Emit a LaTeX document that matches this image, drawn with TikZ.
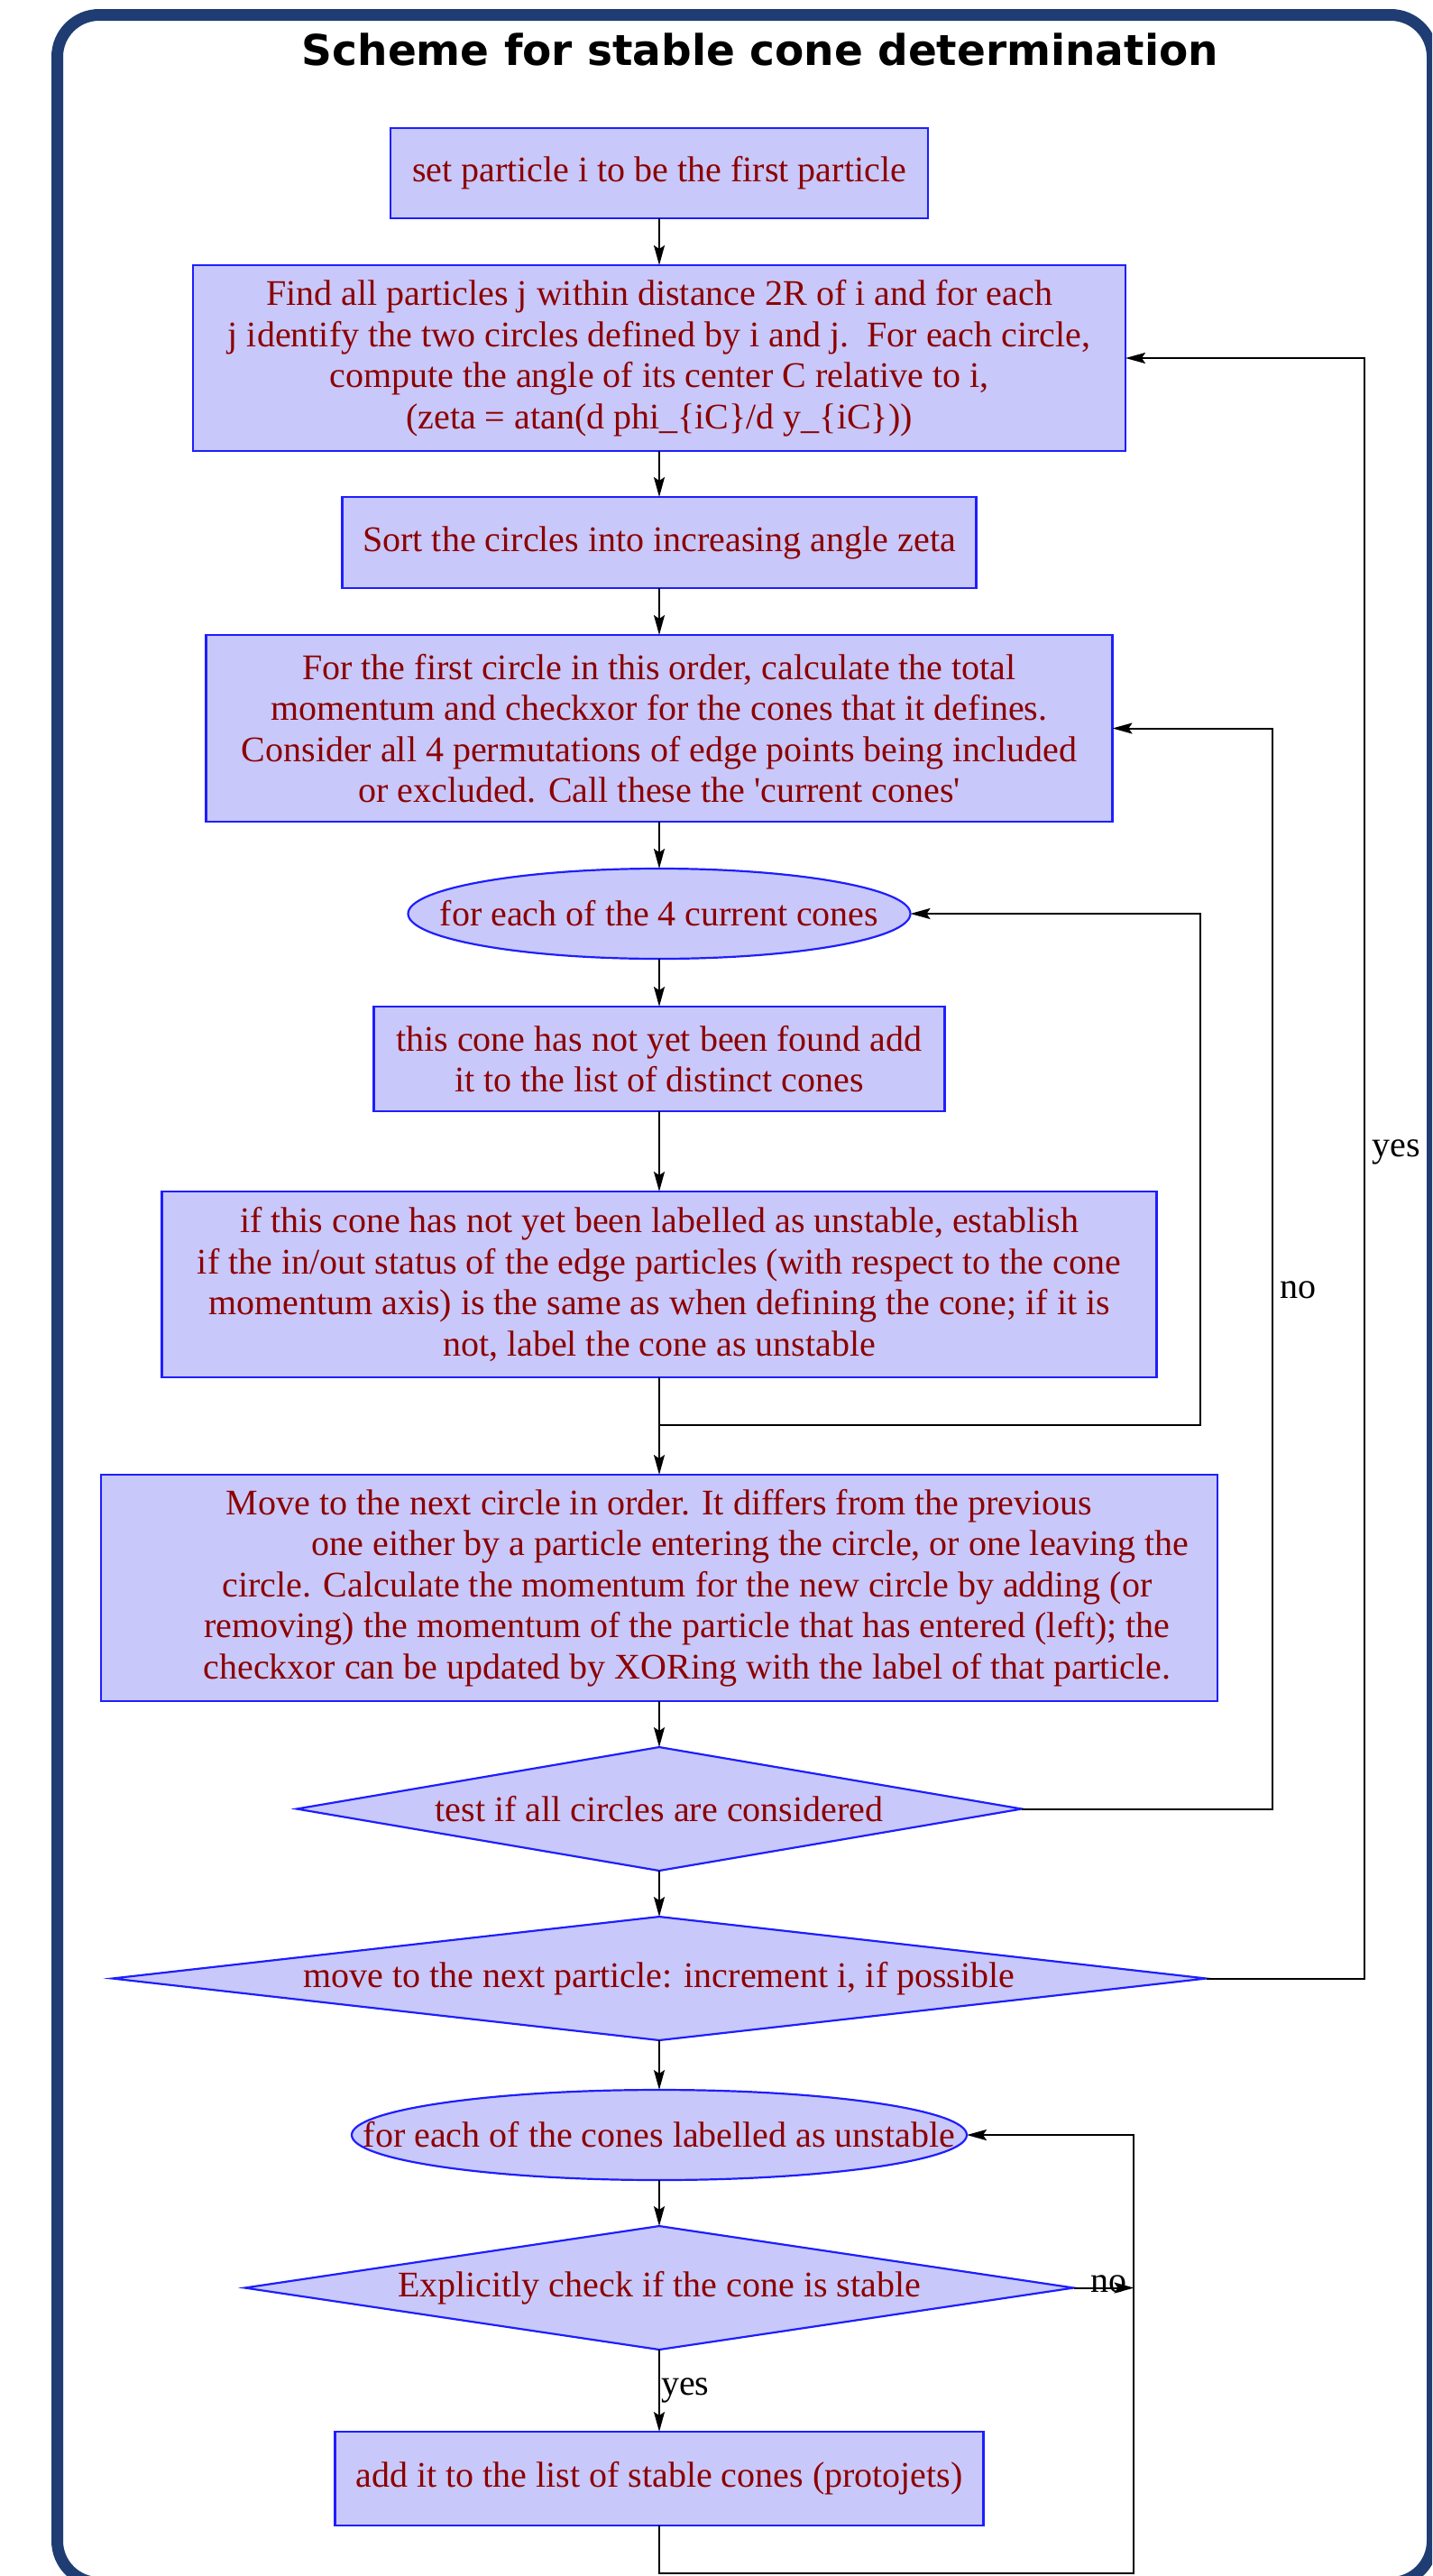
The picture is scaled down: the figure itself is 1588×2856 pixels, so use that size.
\documentclass[tikz,border=0pt]{standalone}
\usepackage{fontspec}
\setmainfont{Liberation Serif}
\newfontfamily\titlefont{DejaVu Sans}
\usetikzlibrary{positioning, arrows.meta, shapes.geometric}
\usepackage{xcolor}
\definecolor{boxfill}{RGB}{200,200,250}
\definecolor{boxline}{RGB}{30,30,255}
\definecolor{boxtext}{RGB}{140,0,0}
\definecolor{framenavy}{RGB}{31,61,115}
\tikzstyle{flowbase} = [
draw=boxline,
fill=boxfill,
line width=2.2pt,
inner sep=0pt,
outer sep=0pt,
text=boxtext,
align=center,
font=\fontsize{40}{45.5}\selectfont
]
\tikzstyle{process} = [
flowbase,
rectangle
]
\tikzstyle{loopnode} = [
flowbase,
ellipse,
inner xsep=-110pt,
minimum height=100pt
]
\tikzstyle{decision} = [
flowbase,
diamond,
minimum height=137pt
]
\tikzstyle{tag} = [
font=\fontsize{40}{45.5}\selectfont,
inner sep=1pt
]
\tikzstyle{frame} = [
draw=framenavy,
line width=13pt,
rounded corners=46.5pt
]
\tikzstyle{arrow}=[-{Stealth[length=22pt,width=12pt,inset=4pt]}, line width=2pt]

\begin{document}
\begin{tikzpicture}[x=1pt, y=-1pt]
        \useasboundingbox (0,0) rectangle (1588,2856);

        % outer frame, cut by the page edge
        \begin{scope}
        \clip (0,0) rectangle (1588,2856);
        \draw[frame] (63.5,16.5) rectangle (1588.5,2863.5);
        \end{scope}

        \node(title)[anchor=base] at (843,72)
        {\titlefont\bfseries\fontsize{47}{50}\selectfont Scheme for stable cone determination};

        \node(first)[process, minimum width=596pt, minimum height=100pt] at (731,192)
        {set particle i to be the first particle};

        \node(find)[process, below=52pt of first, minimum width=1034pt, minimum height=206pt]
        {Find all particles j within distance 2R of i and for each\\
        j identify the two circles defined by i and j.\ \ For each circle,\\
        compute the angle of its center C relative to i,\\
        (zeta = atan(d phi\_\{iC\}/d y\_\{iC\}))};

        \node(sort)[process, below=51pt of find, minimum width=703pt, minimum height=101pt]
        {Sort the circles into increasing angle zeta};

        \node(firstcircle)[process, below=52pt of sort, minimum width=1005pt, minimum height=207pt]
        {For the first circle in this order, calculate the total\\
        momentum and checkxor for the cones that it defines.\\
        Consider all 4 permutations of edge points being included\\
        or excluded. Call these the \textquotesingle current cones\textquotesingle};

        \node(eachcone)[loopnode, below=52pt of firstcircle, minimum width=557pt]
        {for each of the 4 current cones};

        \node(found)[process, below=53pt of eachcone, minimum width=633pt, minimum height=116pt]
        {this cone has not yet been found add\\
        it to the list of distinct cones};

        \node(status)[process, below=89pt of found, minimum width=1103pt, minimum height=206pt]
        {if this cone has not yet been labelled as unstable, establish\\
        if the in/out status of the edge particles (with respect to the cone\\
        momentum axis) is the same as when defining the cone; if it is\\
        not, label the cone as unstable};

        \node(nextcircle)[process, below=108pt of status, minimum width=1238pt, minimum height=251pt]
        {Move to the next circle in order. It differs from the previous\\
        \hspace*{202pt}one either by a particle entering the circle, or one leaving the\\
        \hspace*{62pt}circle. Calculate the momentum for the new circle by adding (or\\
        \hspace*{62pt}removing) the momentum of the particle that has entered (left); the\\
        \hspace*{62pt}checkxor can be updated by XORing with the label of that particle.};

        \node(allcircles)[decision, below=51pt of nextcircle, minimum width=804pt, aspect=5.87]
        {test if all circles are considered};

        \node(nextparticle)[decision, below=51pt of allcircles, minimum width=1213pt, aspect=8.9]
        {move to the next particle: increment i, if possible};

        \node(unstable)[loopnode, below=55pt of nextparticle, minimum width=682pt]
        {for each of the cones labelled as unstable};

        \node(check)[decision, below=51pt of unstable, minimum width=919pt, aspect=6.7]
        {Explicitly check if the cone is stable};

        \node(protojets)[process, below=91pt of check, minimum width=719pt, minimum height=104pt]
        {add it to the list of stable cones (protojets)};

        \draw[arrow] (first)--(find);
        \draw[arrow] (find)--(sort);
        \draw[arrow] (sort)--(firstcircle);
        \draw[arrow] (firstcircle)--(eachcone);
        \draw[arrow] (eachcone)--(found);
        \draw[arrow] (found)--(status);
        \draw[arrow] (status)--(nextcircle);

        \draw[arrow] (status.south) -- ++(0,53) -- ++(600,0) |- (eachcone.east);

        \draw[arrow] (nextcircle)--(allcircles);
        \draw[arrow] (allcircles)--(nextparticle);

        \draw[arrow] (allcircles.east) -- ++(278,0)
        |- node[tag, right, pos=0.24, xshift=6pt]{no} (firstcircle.east);

        \draw[arrow] (nextparticle.east) -- ++(175,0)
        |- node[tag, right, pos=0.255, xshift=7pt]{yes} (find.east);

        \draw[arrow] (nextparticle)--(unstable);
        \draw[arrow] (unstable)--(check);

        \draw[arrow] (check)--node[tag, right]{yes}(protojets);

        \draw[arrow]
        (check.east) -- node[tag, pos=0.58, yshift=4pt]{no} ++(67,0);

        \draw[arrow] (protojets.south) -- ++(0,53) -- ++(526,0) |- (unstable.east);

        \end{tikzpicture}
\end{document}
